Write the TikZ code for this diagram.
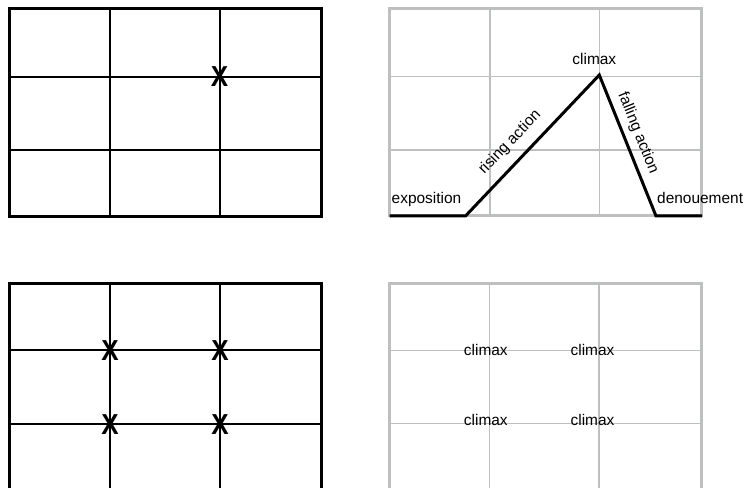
\documentclass[tikz,border=0pt]{standalone}
\usepackage{fontspec}
\setmainfont{Liberation Sans}
\definecolor{gridgray}{RGB}{190,191,191}

\begin{document}
\begin{tikzpicture}[x=1bp, y=-1bp,
    thick grid/.style={line width=1.8bp},
    thin grid/.style={gridgray, line width=1.5bp},
    label text/.style={font=\fontsize{15.5}{18}\selectfont, inner sep=0pt},
    mark x/.style={font=\fontsize{29}{29}\selectfont\bfseries, inner sep=0pt, xscale=0.9}]
    \useasboundingbox (0,0) rectangle (748,488);
    \clip (0,0) rectangle (748,488);

    % thirds, one point
    \draw[thick grid] (110,9) -- (110,217);
    \draw[thick grid] (220,9) -- (220,217);
    \draw[thick grid] (9.5,77) -- (321.5,77);
    \draw[thick grid] (9.5,150) -- (321.5,150);
    \draw[line width=3bp] (9.5,9) rectangle (321.5,217);
    \node[mark x] (xa) at (219.5,76.5) {X};

    % story arc
    \draw[thin grid] (490,9) -- (490,216);
    \draw[thin grid] (599.5,9) -- (599.5,216);
    \draw[thin grid] (389.5,76.7) -- (701.5,76.7);
    \draw[thin grid] (389.5,150) -- (701.5,150);
    \draw[gridgray, line width=3bp] (389.5,9) rectangle (701.5,216);
    \coordinate (start) at (389.5,216);
    \coordinate (rise) at (465.5,216);
    \coordinate (peak) at (599.3,75);
    \coordinate (fall) at (656,216);
    \coordinate (finish) at (702,216);
    \draw[line width=3bp] (start) -- (rise) -- (peak) -- (fall) -- (finish);
    \node[label text, anchor=base west] (expo) at (391.5,204) {exposition};
    \node[label text, anchor=base west] (deno) at (657,204) {denouement};
    \node[label text, anchor=base] (top) at (594.3,65) {climax};
    \node[label text, rotate=46.2] (rising) at (510,142.5) {rising action};
    \node[label text, rotate=-68] (falling) at (638,133) {falling action};

    % thirds, four points
    \draw[thick grid] (110,283) -- (110,491);
    \draw[thick grid] (220,283) -- (220,491);
    \draw[thick grid] (9.5,350) -- (321.5,350);
    \draw[thick grid] (9.5,424) -- (321.5,424);
    \draw[line width=3bp] (9.5,283) rectangle (321.5,491);
    \node[mark x] (xb) at (110,351) {X};
    \node[mark x] (xc) at (220,351) {X};
    \node[mark x] (xd) at (110,424.5) {X};
    \node[mark x] (xe) at (220,424.5) {X};

    % four climaxes
    \draw[thin grid] (489.5,283) -- (489.5,491);
    \draw[thin grid] (599,283) -- (599,491);
    \draw[thin grid] (389.5,350.5) -- (701.5,350.5);
    \draw[thin grid] (389.5,423.3) -- (701.5,423.3);
    \draw[gridgray, line width=3bp] (389.5,283) rectangle (701.5,491);
    \node[label text, anchor=base] (ca) at (485.8,355) {climax};
    \node[label text, anchor=base] (cb) at (592.5,355) {climax};
    \node[label text, anchor=base] (cc) at (485.8,425) {climax};
    \node[label text, anchor=base] (cd) at (592.5,425) {climax};
\end{tikzpicture}
\end{document}
